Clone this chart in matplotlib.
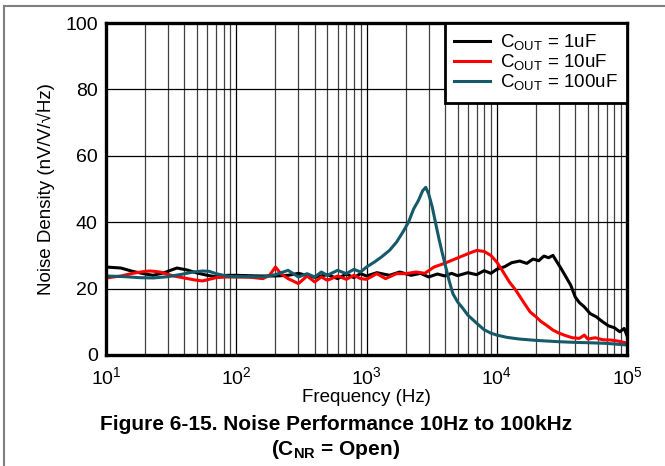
import matplotlib.pyplot as plt
from matplotlib.lines import Line2D
from matplotlib.ticker import FixedLocator, LogLocator, NullFormatter

plt.rcParams['font.family'] = ['Liberation Sans', 'DejaVu Sans']
plt.rcParams['mathtext.fontset'] = 'custom'
plt.rcParams['mathtext.rm'] = 'Liberation Sans'
plt.rcParams['mathtext.bf'] = 'Liberation Sans:bold'

# noise density, nV/V/rtHz, C_OUT = 1uF
f_1u = [10, 13, 16, 20, 23, 28, 35, 42, 50, 60, 71, 85, 100, 150, 200, 250,
        300, 400, 500, 600, 700, 800, 900, 1000, 1200, 1500, 1800, 2200, 2600,
        3000, 3500, 4000, 4500, 5000, 6000, 7000, 8000, 9000, 10000, 11500,
        13000, 15000, 17000, 19000, 21000, 23000, 25000, 27000, 29000, 31000,
        34000, 37000, 40000, 43000, 47000, 52000, 58000, 65000, 72000, 80000,
        88000, 95000, 100000]
n_1u = [26.5, 26.2, 25.2, 24.4, 24.0, 24.8, 26.2, 25.6, 24.7, 24.0, 23.5, 24.0,
        24.0, 23.8, 23.8, 24.0, 24.6, 23.4, 24.2, 23.0, 24.4, 23.3, 24.5, 23.8,
        24.8, 24.0, 25.0, 24.0, 24.6, 23.5, 24.4, 23.8, 24.6, 23.9, 24.8, 24.2,
        25.4, 24.6, 25.8, 26.6, 27.8, 28.3, 27.6, 28.9, 28.4, 29.8, 29.3, 30.0,
        28.0, 26.2, 23.5, 21.0, 17.5, 15.8, 14.5, 12.5, 11.5, 10.0, 8.8, 8.2,
        7.0, 8.0, 5.8]

# C_OUT = 10uF
f_10u = [10, 13, 16, 20, 22, 26, 33, 40, 48, 55, 62, 70, 85, 100, 130, 160,
         180, 200, 220, 250, 300, 350, 400, 450, 500, 600, 700, 800, 900, 1000,
         1200, 1400, 1700, 2000, 2400, 2800, 3300, 3900, 4500, 5200, 6000,
         7000, 8000, 9000, 10000, 11000, 12500, 14000, 16000, 18000, 20000,
         22000, 24000, 27000, 30000, 34000, 38000, 43000, 47000, 50000, 57000,
         65000, 75000, 85000, 100000]
n_10u = [23.2, 23.8, 24.6, 25.2, 25.3, 25.0, 23.8, 23.2, 22.6, 22.3, 22.8,
         23.3, 23.5, 23.5, 23.4, 23.0, 24.0, 26.5, 24.5, 23.0, 21.5, 23.8,
         22.0, 23.5, 22.5, 23.8, 22.8, 24.0, 23.0, 22.8, 24.5, 23.0, 24.5,
         24.5, 25.0, 24.6, 26.5, 27.5, 28.5, 29.5, 30.5, 31.5, 31.2, 30.0,
         28.0, 25.5, 22.0, 19.5, 16.0, 13.0, 11.5, 10.0, 9.0, 7.5, 6.6, 5.8,
         5.2, 5.0, 6.0, 4.8, 5.2, 4.6, 4.5, 4.2, 3.6]

# C_OUT = 100uF
f_100u = [10, 14, 18, 23, 30, 38, 47, 55, 62, 70, 80, 90, 100, 130, 160, 200,
          250, 300, 350, 400, 450, 500, 600, 700, 800, 900, 1000, 1150, 1300,
          1500, 1700, 1900, 2100, 2300, 2500, 2700, 2850, 3000, 3200, 3400,
          3600, 3800, 4000, 4300, 4600, 5000, 5500, 6000, 7000, 8000, 9000,
          10000, 12000, 15000, 20000, 30000, 40000, 50000, 70000, 100000]
n_100u = [23.8, 23.6, 23.3, 23.2, 23.6, 24.3, 25.0, 25.3, 25.2, 24.5, 24.0,
          23.6, 23.6, 23.6, 23.5, 24.2, 25.5, 23.5, 24.5, 23.5, 25.0, 24.0,
          25.5, 24.5, 25.8, 25.0, 26.5, 28.0, 29.5, 31.5, 34.0, 37.0, 40.0,
          44.0, 46.5, 49.5, 50.5, 48.5, 44.5, 39.5, 35.0, 31.0, 27.5, 22.5,
          18.5, 16.0, 14.0, 12.0, 9.6, 7.6, 6.6, 6.0, 5.3, 4.8, 4.4, 4.0, 3.8,
          3.7, 3.5, 3.0]

y_ticks = [0, 20, 40, 60, 80, 100]

fig = plt.figure(figsize=(6.65, 4.66), dpi=100)
ax = fig.add_axes([0.1594, 0.2382, 0.7835, 0.7124])

lw = 2.2
ax.plot(f_1u, n_1u, color='black', lw=lw, label=r'C$_\mathregular{OUT}$ = 1uF')
ax.plot(f_10u, n_10u, color='#ff0000', lw=lw, label=r'C$_\mathregular{OUT}$ = 10uF')
ax.plot(f_100u, n_100u, color='#16596a', lw=lw, label=r'C$_\mathregular{OUT}$ = 100uF')

ax.set_xscale('log')
ax.set_xlim(10, 1e5)
ax.set_ylim(0, 100)
ax.yaxis.set_major_locator(FixedLocator(y_ticks))
ax.xaxis.set_minor_locator(LogLocator(base=10, subs=range(2, 10)))
ax.xaxis.set_minor_formatter(NullFormatter())

ax.grid(True, which='major', color='black', lw=0.9)
ax.grid(True, which='minor', axis='x', color='0.25', lw=0.9)
ax.tick_params(which='both', length=0, labelsize=14)
ax.tick_params(axis='x', pad=8)
ax.tick_params(axis='y', pad=6)

for s in ax.spines.values():
    s.set_linewidth(2.4)

ax.set_xlabel('Frequency (Hz)', fontsize=13.5, labelpad=1)
ax.set_ylabel('Noise Density (nV/V/\u221aHz)', fontsize=13.5, labelpad=7)

leg = ax.legend(loc='upper right', borderaxespad=0, fancybox=False,
                edgecolor='black', framealpha=1, fontsize=13.5,
                handlelength=1.9, handletextpad=0.55, labelspacing=0.0,
                borderpad=0.5)
leg.get_frame().set_linewidth(2)

fig.text(0.505, 0.09, 'Figure 6-15. Noise Performance 10Hz to 100kHz',
         ha='center', va='center', fontsize=15, fontweight='bold')
fig.text(0.505, 0.036, r'(C$_\mathbf{NR}$ = Open)',
         ha='center', va='center', fontsize=15, fontweight='bold')

# page border
fig.add_artist(Line2D([0.006, 1.0], [0.987, 0.987], color='0.5', lw=1.5))
fig.add_artist(Line2D([0.006, 0.006], [0.0, 0.987], color='0.5', lw=1.5))

fig.savefig('out.png', dpi=100)
